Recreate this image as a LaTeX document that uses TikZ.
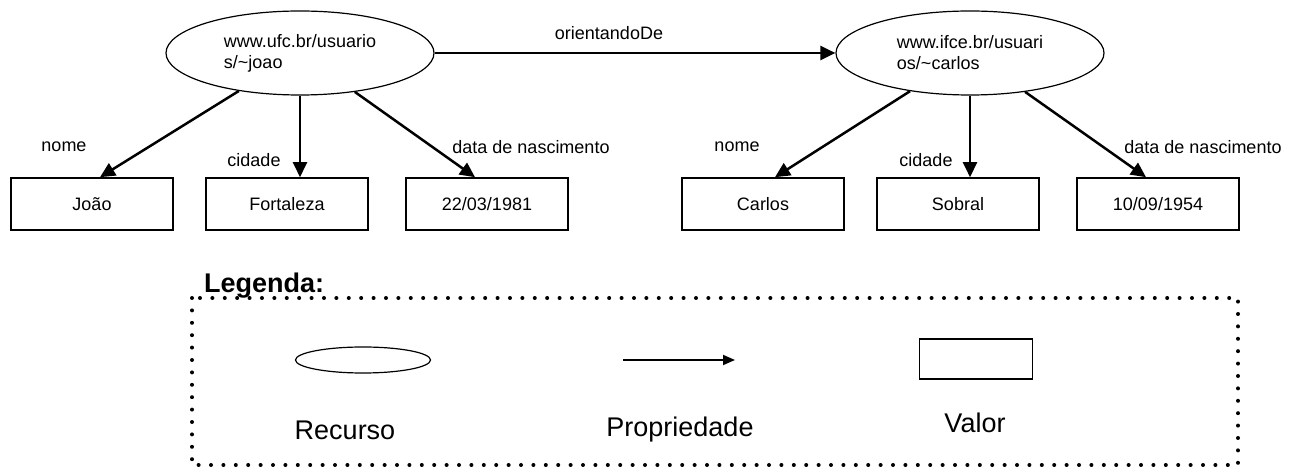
\documentclass[tikz,border=0pt]{standalone}
\usepackage{fontspec}
\setmainfont{Liberation Sans}
\usetikzlibrary{arrows.meta,shapes.geometric}

\tikzset{
  recurso/.style={draw,ellipse,line width=1.2bp,minimum width=268bp,minimum height=84bp,inner sep=0pt,align=left,font=\fontsize{18bp}{21bp}\selectfont},
  valor/.style={draw,rectangle,line width=1.6bp,minimum width=162bp,minimum height=52bp,inner sep=0pt,font=\fontsize{18bp}{21bp}\selectfont},
  prop/.style={line width=2.5bp,-{Triangle[length=15bp,width=14bp]}},
  rotulo/.style={font=\fontsize{18bp}{21bp}\selectfont,inner sep=0pt},
  legtexto/.style={font=\fontsize{27bp}{30bp}\selectfont,inner sep=0pt}
}

\begin{document}
\begin{tikzpicture}[x=1bp,y=-1bp]
        \useasboundingbox (0,0) rectangle (1290,470);

        % Recursos
        \node[recurso] (e1) at (300,53) {www.ufc.br/usuario\\s/\textasciitilde joao};
        \node[recurso] (e2) at (970,53) {www.ifce.br/usuari\\os/\textasciitilde carlos};

        % Valores
        \node[valor] (joao) at (92,204) {João};
        \node[valor] (fortaleza) at (287,204) {Fortaleza};
        \node[valor] (nasc1) at (487,204) {22/03/1981};
        \node[valor] (carlos) at (763,204) {Carlos};
        \node[valor] (sobral) at (958,204) {Sobral};
        \node[valor] (nasc2) at (1158,204) {10/09/1954};

        % Propriedades
        \draw[prop] (e1) -- (e2);
        \node[rotulo] (orient) at (609,33) {orientandoDe};

        \draw[prop] (e1) -- ([xshift=8bp]joao.north);
        \draw[prop] (e1) -- (e1 |- fortaleza.north);
        \draw[prop] (e1) -- ([xshift=-12bp]nasc1.north);
        \draw[prop] (e2) -- ([xshift=12bp]carlos.north);
        \draw[prop] (e2) -- (e2 |- sobral.north);
        \draw[prop] (e2) -- ([xshift=-12bp]nasc2.north);

        \node[rotulo] (nome1) at (64,147) {nome};
        \node[rotulo] (cidade1) at (254,160) {cidade};
        \node[rotulo] (data1) at (531,147) {data de nascimento};
        \node[rotulo] (nome2) at (737,147) {nome};
        \node[rotulo] (cidade2) at (926,160) {cidade};
        \node[rotulo] (data2) at (1203,147) {data de nascimento};

        % Legenda
        \node[font=\fontsize{27bp}{30bp}\selectfont\bfseries,inner sep=0pt,anchor=base west] (legtitulo) at (204,293) {Legenda:};
        \draw[line width=4bp,line cap=round,dash pattern=on 0bp off 12.4bp] (192,298) rectangle (1238,465);

        \node[draw,ellipse,line width=1.2bp,minimum width=135bp,minimum height=26bp] (legrec) at (363,360) {};
        \coordinate (legp1) at (623,360);
        \coordinate (legp2) at (735,360);
        \draw[line width=1.8bp,-{Triangle[length=12bp,width=10bp]}] (legp1) -- (legp2);
        \node[draw,line width=1.4bp,minimum width=113bp,minimum height=40bp] (legval) at (976,359) {};

        \node[legtexto] (txtrec) at (345,430) {Recurso};
        \node[legtexto] (txtprop) at (680,430) {Propriedade};
        \node[legtexto] (txtval) at (975,423) {Valor};
    \end{tikzpicture}
\end{document}
